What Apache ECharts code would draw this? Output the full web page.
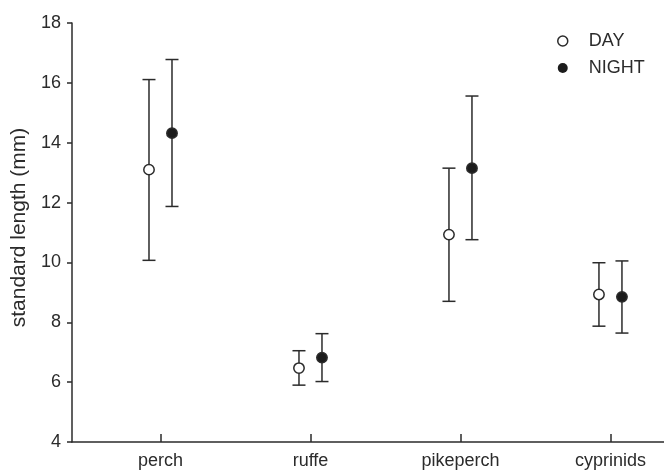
<!DOCTYPE html>
<html>
<head>
<meta charset="utf-8">
<script src="https://cdn.jsdelivr.net/npm/echarts@6/dist/echarts.min.js"></script>
<style>
html,body{margin:0;padding:0;background:#fff;}
#chart{width:664px;height:470px;}
</style>
</head>
<body>
<div id="chart"></div>
<script>
var categories = ['perch', 'ruffe', 'pikeperch', 'cyprinids'];
var yTicks = [4, 6, 8, 10, 12, 14, 16, 18];
var dayMean = [13.10, 6.47, 10.93, 8.93];
var dayLow = [10.07, 5.90, 8.70, 7.87];
var dayHigh = [16.11, 7.05, 13.15, 9.99];
var nightMean = [14.32, 6.82, 13.15, 8.85];
var nightLow = [11.87, 6.02, 10.76, 7.64];
var nightHigh = [16.78, 7.62, 15.56, 10.05];

var INK = '#2b2b2b';
var FONT = 'Liberation Sans, Arial, sans-serif';

function buildData(mean, low, high) {
  return categories.map(function (c, i) {
    return [i + 1, mean[i], low[i], high[i]];
  });
}

function makeRender(dx, filled) {
  return function (params, api) {
    var x = api.value(0);
    var c = api.coord([x, api.value(1)]);
    var lo = api.coord([x, api.value(2)]);
    var hi = api.coord([x, api.value(3)]);
    var px = c[0] + dx;
    var cap = 6.5;
    var ls = { stroke: INK, lineWidth: 1.5 };
    return {
      type: 'group',
      children: [
        { type: 'line', shape: { x1: px, y1: lo[1], x2: px, y2: hi[1] }, style: ls },
        { type: 'line', shape: { x1: px - cap, y1: lo[1], x2: px + cap, y2: lo[1] }, style: ls },
        { type: 'line', shape: { x1: px - cap, y1: hi[1], x2: px + cap, y2: hi[1] }, style: ls },
        { type: 'circle', shape: { cx: px, cy: c[1], r: 5.2 },
          style: { fill: filled ? '#1c1c1c' : '#ffffff', stroke: INK, lineWidth: 1.5 } }
      ]
    };
  };
}

var chart = echarts.init(document.getElementById('chart'), null, { renderer: 'canvas' });
chart.setOption({
  backgroundColor: '#ffffff',
  animation: false,
  textStyle: { fontFamily: FONT },
  grid: { left: 72, right: 0, top: 23, bottom: 28, containLabel: false },
  legend: {
    orient: 'vertical',
    left: 552,
    top: 27,
    icon: 'circle',
    itemWidth: 10,
    itemHeight: 10,
    itemGap: 9,
    selectedMode: false,
    textStyle: { fontFamily: FONT, fontSize: 18, color: INK, padding: [0, 0, 0, 16] },
    data: [
      { name: 'DAY', itemStyle: { color: '#ffffff', borderColor: INK, borderWidth: 1.5 } },
      { name: 'NIGHT', itemStyle: { color: '#1c1c1c', borderWidth: 0 } }
    ]
  },
  xAxis: {
    type: 'value',
    min: 0.41,
    max: 4.357,
    axisLine: { show: true, lineStyle: { color: INK, width: 1.5 } },
    axisTick: { show: true, inside: true, length: 8, customValues: [1, 2, 3, 4], lineStyle: { color: INK, width: 1.5 } },
    axisLabel: {
      show: true,
      customValues: [1, 2, 3, 4],
      margin: 10,
      fontSize: 18,
      color: INK,
      fontFamily: FONT,
      formatter: function (v) { return categories[Math.round(v) - 1] || ''; }
    },
    splitLine: { show: false }
  },
  yAxis: {
    type: 'value',
    min: yTicks[0],
    max: yTicks[yTicks.length - 1],
    interval: 2,
    name: 'standard length (mm)',
    nameLocation: 'middle',
    nameGap: 40,
    nameTextStyle: { fontSize: 21, color: INK, fontFamily: FONT, padding: [0, 0, 0, 10] },
    axisLine: { show: true, lineStyle: { color: INK, width: 1.5 } },
    axisTick: { show: true, inside: false, length: 5, lineStyle: { color: INK, width: 1.5 } },
    axisLabel: { margin: 11, fontSize: 18, color: INK, fontFamily: FONT },
    splitLine: { show: false }
  },
  series: [
    {
      name: 'DAY',
      type: 'custom',
      renderItem: makeRender(-11.5, false),
      itemStyle: { color: '#ffffff', borderColor: INK, borderWidth: 1.5 },
      encode: { x: 0, y: [1, 2, 3] },
      data: buildData(dayMean, dayLow, dayHigh),
      clip: false
    },
    {
      name: 'NIGHT',
      type: 'custom',
      renderItem: makeRender(11.5, true),
      itemStyle: { color: '#1c1c1c' },
      encode: { x: 0, y: [1, 2, 3] },
      data: buildData(nightMean, nightLow, nightHigh),
      clip: false
    }
  ]
});
</script>
</body>
</html>
